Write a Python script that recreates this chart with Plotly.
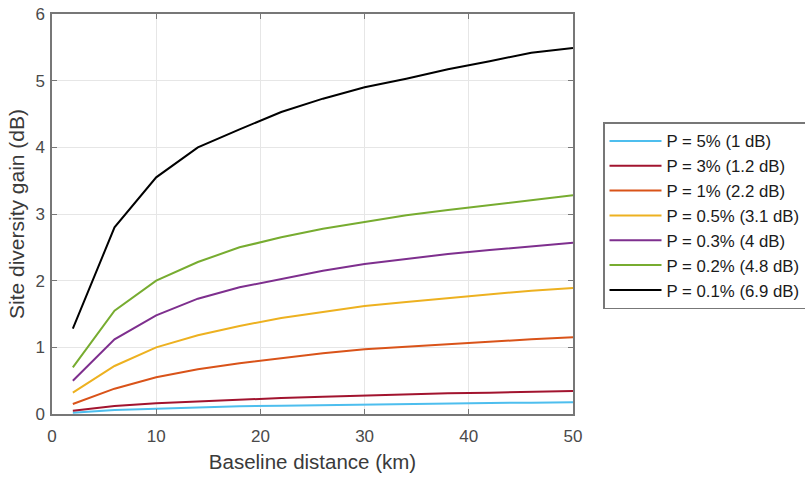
import plotly.graph_objects as go

# Baseline distance (km)
distance = [2, 6, 10, 14, 18, 22, 26, 30, 34, 38, 42, 46, 50]

# Site diversity gain (dB) per exceedance probability
gain_p5 = [0.02, 0.06, 0.08, 0.10, 0.115, 0.125, 0.135, 0.145, 0.155, 0.16, 0.165, 0.17, 0.175]
gain_p3 = [0.05, 0.12, 0.16, 0.19, 0.22, 0.24, 0.26, 0.28, 0.30, 0.31, 0.32, 0.335, 0.345]
gain_p1 = [0.15, 0.38, 0.55, 0.67, 0.76, 0.84, 0.91, 0.97, 1.01, 1.05, 1.09, 1.12, 1.15]
gain_p05 = [0.32, 0.72, 1.00, 1.18, 1.32, 1.44, 1.53, 1.62, 1.68, 1.74, 1.80, 1.85, 1.89]
gain_p03 = [0.50, 1.12, 1.48, 1.73, 1.90, 2.03, 2.15, 2.25, 2.33, 2.40, 2.46, 2.52, 2.57]
gain_p02 = [0.70, 1.55, 2.00, 2.28, 2.50, 2.65, 2.78, 2.88, 2.98, 3.06, 3.13, 3.20, 3.28]
gain_p01 = [1.28, 2.80, 3.55, 4.00, 4.27, 4.53, 4.73, 4.90, 5.03, 5.17, 5.29, 5.42, 5.49]

series_names = [
    "P = 5% (1 dB)",
    "P = 3% (1.2 dB)",
    "P = 1% (2.2 dB)",
    "P = 0.5% (3.1 dB)",
    "P = 0.3% (4 dB)",
    "P = 0.2% (4.8 dB)",
    "P = 0.1% (6.9 dB)",
]
series_values = [gain_p5, gain_p3, gain_p1, gain_p05, gain_p03, gain_p02, gain_p01]
series_colors = ["#4DBEEE", "#A2142F", "#D95319", "#EDB120", "#7E2F8E", "#77AC30", "#000000"]

x_ticks = [0, 10, 20, 30, 40, 50]
y_ticks = [0, 1, 2, 3, 4, 5, 6]

FONT = "Liberation Sans, Arial, sans-serif"

fig = go.Figure()
for name, vals, col in zip(series_names, series_values, series_colors):
    fig.add_trace(go.Scatter(
        x=distance, y=vals, mode="lines", name=name,
        line=dict(color=col, width=2),
    ))

axis_common = dict(
    showline=True, linecolor="#777777", linewidth=1.5, mirror="ticks",
    ticks="inside", ticklen=5, tickcolor="#777777",
    showgrid=True, gridcolor="#e6e6e6", gridwidth=1,
    zeroline=False,
    tickfont=dict(family=FONT, size=17, color="#4a4a4a"),
)

fig.update_xaxes(
    range=[0, 50], tickvals=x_ticks, ticklabelstandoff=6,
    title=dict(text="Baseline distance (km)", standoff=9,
               font=dict(family=FONT, size=20.5, color="#3a3a3a")),
    **axis_common,
)
fig.update_yaxes(
    range=[0, 6], tickvals=y_ticks, ticklabelstandoff=2,
    title=dict(text="Site diversity gain (dB)", standoff=5,
               font=dict(family=FONT, size=21, color="#3a3a3a")),
    **axis_common,
)

fig.update_layout(
    width=805, height=477,
    margin=dict(l=52, r=232, t=14, b=63, autoexpand=False),
    plot_bgcolor="white", paper_bgcolor="white",
    legend=dict(
        x=1.0576, y=0.73, xanchor="left", yanchor="top",
        bordercolor="#777777", borderwidth=1.5,
        font=dict(family=FONT, size=16.8, color="#1a1a1a"),
        tracegroupgap=0, itemwidth=52,
    ),
)

fig.write_html("out.html")
